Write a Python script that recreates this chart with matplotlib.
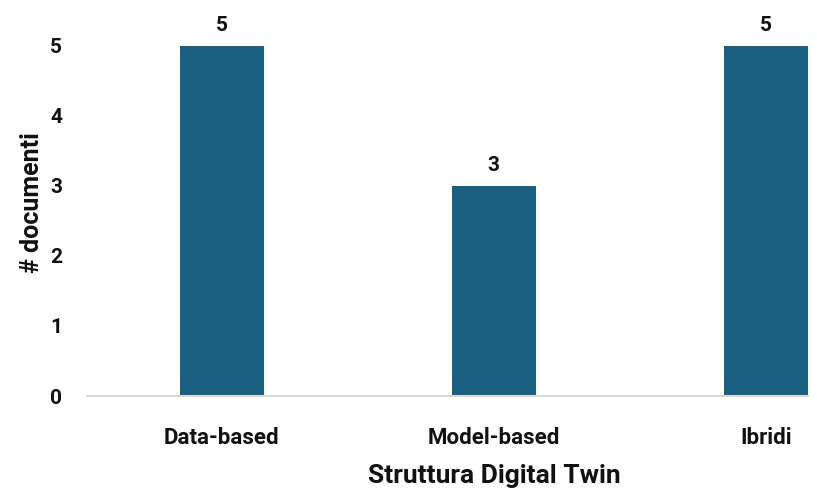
import matplotlib
matplotlib.use("Agg")
import matplotlib.pyplot as plt

categories = ["Data-based", "Model-based", "Ibridi"]
documenti = [5, 3, 5]
y_ticks = [0, 1, 2, 3, 4, 5]

plt.rcParams["font.family"] = ["Roboto", "DejaVu Sans"]

fig = plt.figure(figsize=(8.17, 4.95), dpi=100)
ax = fig.add_axes([87 / 817, 99 / 495, 721 / 817, 386 / 495])

x = list(range(len(categories)))
bars = ax.bar(x, documenti, width=0.31, color="#185F80", zorder=2)

for xi, v in zip(x, documenti):
    ax.annotate(str(v), (xi, v), xytext=(0, 8), textcoords="offset points",
                ha="center", va="bottom", fontsize=15, fontweight="semibold",
                color="#111111")

x_lo, x_hi = -0.496, 2.155
ax.set_xlim(x_lo, x_hi)
ax.set_ylim(0, 5.514)
ax.set_xticks(x)
ax.set_xticklabels(categories, fontsize=16, fontweight="semibold", color="#111111")
ax.set_yticks(y_ticks)
ax.set_yticklabels([str(t) for t in y_ticks], fontsize=15, fontweight="semibold",
                   color="#111111")
ax.tick_params(axis="both", length=0)
ax.tick_params(axis="x", pad=22)
ax.tick_params(axis="y", pad=18)

for s in ["top", "right", "left"]:
    ax.spines[s].set_visible(False)
ax.spines["bottom"].set_color("#D9D9D9")
ax.spines["bottom"].set_linewidth(1.5)

ax.set_xlabel("Struttura Digital Twin", fontsize=19, fontweight="bold",
              color="#111111")
# centre the axis title under the middle category
ax.xaxis.set_label_coords((1 - x_lo) / (x_hi - x_lo), -0.175)
ax.set_ylabel("# documenti", fontsize=18, fontweight="bold", color="#111111",
              labelpad=4)

fig.savefig("out.png", dpi=100)
